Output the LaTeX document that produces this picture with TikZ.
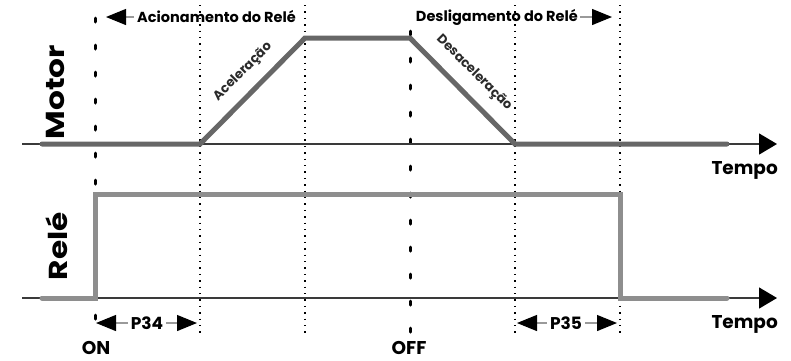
\documentclass[tikz,border=0pt]{standalone}
\usepackage{fontspec}
\setmainfont{Poppins}
\newfontfamily\widefont[FakeStretch=1.2]{Poppins}
\usetikzlibrary{arrows.meta}
\definecolor{motorgray}{HTML}{676767}
\definecolor{relegray}{HTML}{8E8E8E}
\definecolor{axisgray}{HTML}{3A3A3A}
\definecolor{linkgray}{HTML}{9A9A9A}
\definecolor{rampgray}{HTML}{2A2A2A}
\begin{document}
\begin{tikzpicture}[x=1pt,y=-1pt,
  axisline/.style={line width=1.4pt,draw=axisgray,-{Triangle[length=18pt,width=21pt,color=black]}},
  motorsig/.style={line width=5pt,draw=motorgray,line join=miter,line cap=round},
  relesig/.style={line width=5pt,draw=relegray,line join=miter,line cap=round},
  thickdash/.style={line width=3pt,line cap=round,dash pattern=on 4pt off 23pt},
  thindot/.style={line width=1.1pt,dash pattern=on 1.4pt off 5pt},
  smallarrow/.style={line width=1.2pt,draw=linkgray,-{Triangle[length=20pt,width=16pt,color=black]}},
  lbl/.style={font=\bfseries\fontsize{14.5}{14.5}\selectfont,inner sep=0pt},
  big/.style={font=\widefont\bfseries\fontsize{26}{26}\selectfont,inner sep=0pt},
  tempo/.style={font=\bfseries\fontsize{18.5}{18.5}\selectfont,inner sep=0pt},
  pl/.style={font=\bfseries\fontsize{17}{17}\selectfont,inner sep=0pt},
  ramp/.style={font=\bfseries\fontsize{13}{13}\selectfont,text=rampgray,inner sep=0pt}]
\useasboundingbox (0,0) rectangle (791,360);
% coordinates
\coordinate (mA) at (22,144);  \coordinate (mE) at (777,144);
\coordinate (rA) at (22,298);  \coordinate (rE) at (777,298);
\coordinate (m0) at (42,144); \coordinate (m1) at (200,144); \coordinate (m2) at (305,38);
\coordinate (m3) at (410,38); \coordinate (m4) at (515,144); \coordinate (m5) at (727,144);
\coordinate (r0) at (42,298); \coordinate (r1) at (95,298); \coordinate (r2) at (95,194);
\coordinate (r3) at (620,194); \coordinate (r4) at (620,298); \coordinate (r5) at (727,298);
% dotted guides
\foreach \x/\n in {200/a,305/b,515/c,620/d}{
  \coordinate (dt\n) at (\x,5); \coordinate (db\n) at (\x,336);
  \draw[thindot] (dt\n) -- (db\n);}
% thick dashed ON / OFF
\coordinate (onT) at (95,18); \coordinate (onB) at (95,325);
\coordinate (offT) at (410,31); \coordinate (offB) at (410,333);
\draw[thickdash] (onT) -- (onB);
\draw[thickdash] (offT) -- (offB);
% axes
\draw[axisline] (mA) -- (mE);
\draw[axisline] (rA) -- (rE);
% signals
\draw[motorsig] (m0) -- (m1) -- (m2) -- (m3) -- (m4) -- (m5);
\draw[relesig] (r0) -- (r1) -- (r2) -- (r3) -- (r4) -- (r5);
% labels
\node[big,rotate=90] (motor) at (55,92) {Motor};
\node[big,rotate=90] (rele) at (57,246) {Relé};
\node[tempo,anchor=east] (tempo1) at (778,170) {Tempo};
\node[tempo,anchor=east] (tempo2) at (778,324) {Tempo};
\node[lbl,anchor=west] (acion) at (137,17) {Acionamento do Relé};
\coordinate (acA) at (106,17);
\draw[smallarrow] (acion.west) ++(-3,0) coordinate (acS) -- (acA);
\node[lbl,anchor=east] (desl) at (578,17) {Desligamento do Relé};
\coordinate (deA) at (612,17);
\draw[smallarrow] (desl.east) ++(2,0) coordinate (deS) -- (deA);
\node[ramp,rotate=45] (acel) at (243,72) {Aceleração};
\node[ramp,rotate=-45] (desac) at (474,73) {Desaceleração};
\node[pl] (p34) at (147,323) {P34};
\coordinate (p34L) at (96,323); \coordinate (p34R) at (197,323);
\draw[smallarrow] (p34.west) ++(-3,0) -- (p34L);
\draw[smallarrow] (p34.east) ++(3,0) -- (p34R);
\node[pl] (p35) at (566,323) {P35};
\coordinate (p35L) at (517,323); \coordinate (p35R) at (617,323);
\draw[smallarrow] (p35.west) ++(-3,0) -- (p35L);
\draw[smallarrow] (p35.east) ++(3,0) -- (p35R);
\node[tempo] (on) at (96,348) {ON};
\node[tempo] (off) at (409,348) {OFF};
\end{tikzpicture}
\end{document}
